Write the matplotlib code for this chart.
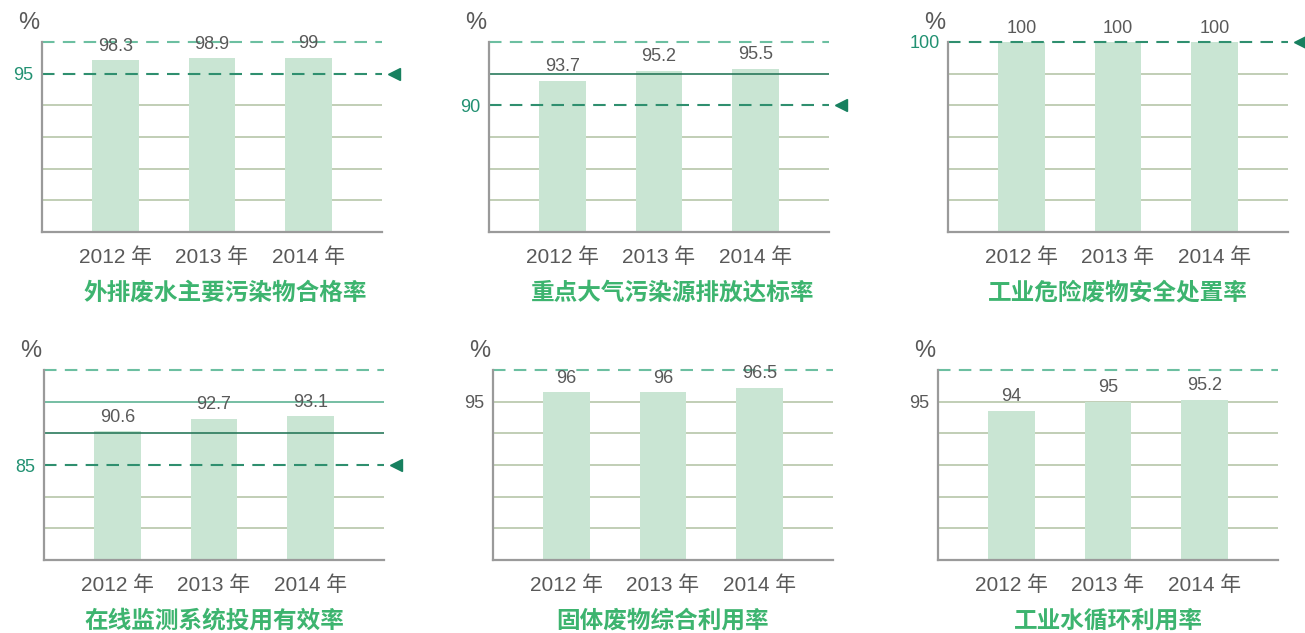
import matplotlib.pyplot as plt
import matplotlib.transforms as mtransforms

plt.rcParams['font.family'] = ['Liberation Sans', 'Noto Sans CJK SC']

# 数据
years = ['2012 年', '2013 年', '2014 年']
titles = ['外排废水主要污染物合格率', '重点大气污染源排放达标率', '工业危险废物安全处置率',
          '在线监测系统投用有效率', '固体废物综合利用率', '工业水循环利用率']
wastewater = [98.3, 98.9, 99]
air = [93.7, 95.2, 95.5]
hazardous = [100, 100, 100]
monitoring = [90.6, 92.7, 93.1]
solid_waste = [96, 96, 96.5]
water_reuse = [94, 95, 95.2]
targets = [95, 90, 100, 85, None, None]
plain_ticks = [None, None, None, None, 95, 95]

series = [wastewater, air, hazardous, monitoring, solid_waste, water_reuse]

# 每个小图的纵轴范围（示意性刻度）
ylims = [(55.6, 102.9), (71, 99.5), (70, 100), (69.25, 100.75), (78.17, 98.37), (77.4, 98.5)]
# 六条横线的样式（从下往上第 1..6 条）
line_kinds = [
    ['grid', 'grid', 'grid', 'grid', 'target', 'top'],
    ['grid', 'grid', 'grid', 'target', 'dark', 'top'],
    ['grid', 'grid', 'grid', 'grid', 'grid', 'target'],
    ['grid', 'grid', 'target', 'dark', 'mid', 'top'],
    ['grid', 'grid', 'grid', 'grid', 'grid', 'top'],
    ['grid', 'grid', 'grid', 'grid', 'grid', 'top'],
]
# 轴位置（像素：左, 上）和标题的水平位置
positions = [(42, 42), (489, 42), (948, 42), (44, 370), (493, 370), (938, 370)]
title_x = [0.54, 0.54, 0.5, 0.5, 0.5, 0.5]

W, H = 1305, 633
bar_color = '#c9e5d3'
grid_color = '#bccab0'
text_gray = '#595959'
green_title = '#3db46f'
green_tick = '#229172'

fig = plt.figure(figsize=(W / 100, H / 100), dpi=100)

for i, vals in enumerate(series):
    left, top = positions[i]
    ax = fig.add_axes([left / W, (H - top - 190) / H, 340 / W, 190 / H])
    lo, hi = ylims[i]
    ax.set_ylim(lo, hi)
    ax.set_xlim(-0.76, 2.76)
    x = range(len(vals))
    ax.bar(x, vals, width=0.48, color=bar_color, zorder=2)

    step = (hi - lo) / 6
    for k, kind in enumerate(line_kinds[i], start=1):
        yv = lo + k * step
        if kind == 'grid':
            ax.axhline(yv, color=grid_color, lw=1.3, zorder=1)
        elif kind == 'top':
            ax.axhline(yv, color='#6cbfa1', lw=1.5, dashes=(6, 4), zorder=3, clip_on=False)
        elif kind == 'dark':
            ax.axhline(yv, color='#2a7a5c', lw=1.2, zorder=3)
        elif kind == 'mid':
            ax.axhline(yv, color='#5db394', lw=1.2, zorder=3)
        elif kind == 'target':
            ax.axhline(yv, color='#2f8f6f', lw=1.5, dashes=(6, 4), zorder=3, clip_on=False)

    trans = mtransforms.blended_transform_factory(ax.transAxes, ax.transData)
    if targets[i] is not None:
        ax.plot([1.035], [targets[i]], marker='<', markersize=8, color='#17805f',
                transform=trans, clip_on=False)
        ax.set_yticks([targets[i]])
        ax.set_yticklabels([str(targets[i])], color=green_tick, fontsize=13)
    elif plain_ticks[i] is not None:
        ax.set_yticks([plain_ticks[i]])
        ax.set_yticklabels([str(plain_ticks[i])], color=text_gray, fontsize=13)
    ax.tick_params(axis='y', length=0, pad=6)

    ax.set_xticks(list(x))
    ax.set_xticklabels(years, fontsize=15, color=text_gray)
    ax.tick_params(axis='x', length=0, pad=11)

    for xi, v in zip(x, vals):
        ax.annotate(f'{v:g}', (xi, min(v, hi)), xytext=(0, 10), textcoords='offset points',
                    ha='center', va='center', fontsize=13, color=text_gray, zorder=4)

    ax.text(-0.04, 1.1, '%', transform=ax.transAxes, ha='center', va='center',
            fontsize=17, color=text_gray)
    ax.text(title_x[i], -0.32, titles[i], transform=ax.transAxes, ha='center', va='center',
            fontsize=17, fontweight='bold', color=green_title)

    for s in ['top', 'right']:
        ax.spines[s].set_visible(False)
    for s in ['left', 'bottom']:
        ax.spines[s].set_color('#9a9a9a')
        ax.spines[s].set_linewidth(1.6)
        ax.spines[s].set_zorder(5)

plt.savefig('out.png', dpi=100)
